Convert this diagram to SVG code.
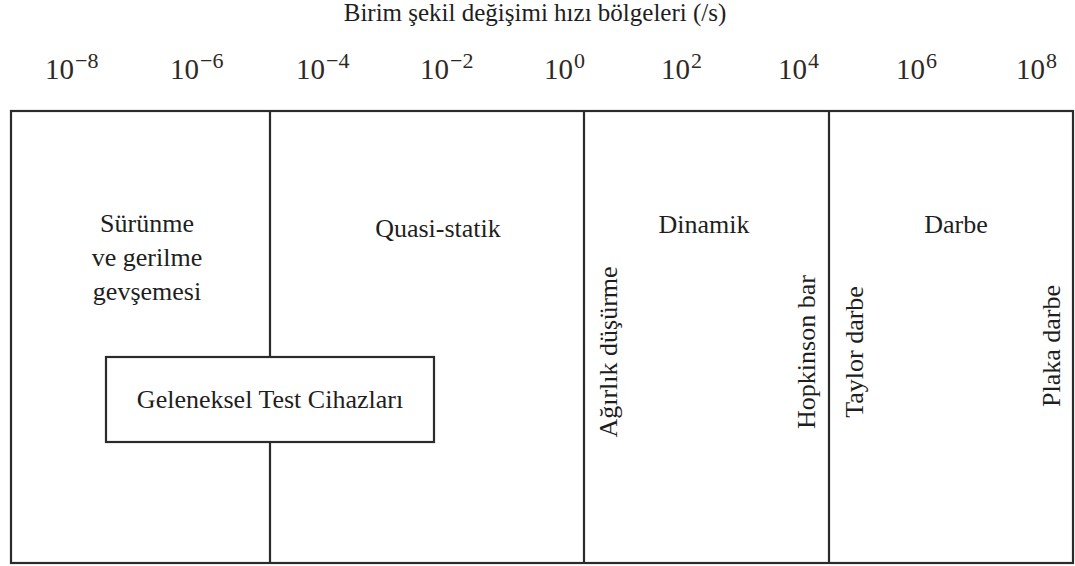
<svg xmlns="http://www.w3.org/2000/svg" width="1075" height="566" viewBox="0 0 1075 566">
  <style>
    .frame { fill: none; stroke: #2b2b2b; stroke-width: 2.2; }
    .div { stroke: #2b2b2b; stroke-width: 2.2; }
    .box { fill: #ffffff; stroke: #2b2b2b; stroke-width: 2.2; }
    text { font-family: 'Liberation Serif', 'DejaVu Serif', serif; }
    .lbl { font-size: 26px; fill: #1e1e1e; }
    .mid { text-anchor: middle; }
    .title { font-size: 25px; fill: #1e1e1e; text-anchor: middle; }
    .num { font-size: 29px; fill: #2e2924; }
    .sup { font-size: 22px; }
  </style>

  <rect width="1075" height="566" fill="#ffffff"/>

  <!-- axis title -->
  <text class="title" x="535" y="21">Birim şekil değişimi hızı bölgeleri (/s)</text>

  <!-- logarithmic scale labels -->
  <g id="scale">
    <text class="num" x="45" y="79">10<tspan class="sup" dx="1" dy="-11">−8</tspan></text>
    <text class="num" x="170" y="79">10<tspan class="sup" dx="1" dy="-11">−6</tspan></text>
    <text class="num" x="296" y="79">10<tspan class="sup" dx="1" dy="-11">−4</tspan></text>
    <text class="num" x="420" y="79">10<tspan class="sup" dx="1" dy="-11">−2</tspan></text>
    <text class="num" x="544" y="79">10<tspan class="sup" dx="1" dy="-11">0</tspan></text>
    <text class="num" x="661" y="79">10<tspan class="sup" dx="1" dy="-11">2</tspan></text>
    <text class="num" x="778" y="79">10<tspan class="sup" dx="1" dy="-11">4</tspan></text>
    <text class="num" x="896" y="79">10<tspan class="sup" dx="1" dy="-11">6</tspan></text>
    <text class="num" x="1016" y="79">10<tspan class="sup" dx="1" dy="-11">8</tspan></text>
  </g>

  <!-- outer frame and region dividers -->
  <g id="connectors">
    <rect class="frame" x="11" y="111" width="1062" height="452"/>
    <line class="div" x1="270" y1="111" x2="270" y2="563"/>
    <line class="div" x1="584" y1="111" x2="584" y2="563"/>
    <line class="div" x1="829" y1="111" x2="829" y2="563"/>
  </g>

  <g id="creep">
    <text class="lbl mid" x="147" y="232">Sürünme</text>
    <text class="lbl mid" x="147" y="266">ve gerilme</text>
    <text class="lbl mid" x="147" y="300">gevşemesi</text>
  </g>

  <g id="quasi-static">
    <text class="lbl mid" x="438" y="237">Quasi-statik</text>
  </g>

  <g id="dynamic">
    <text class="lbl mid" x="704" y="233">Dinamik</text>
    <text class="lbl mid" transform="translate(617,352) rotate(-90)">Ağırlık düşürme</text>
    <text class="lbl mid" transform="translate(815,352) rotate(-90)">Hopkinson bar</text>
  </g>

  <g id="impact">
    <text class="lbl mid" x="956" y="233">Darbe</text>
    <text class="lbl mid" transform="translate(863,352) rotate(-90)">Taylor darbe</text>
    <text class="lbl mid" transform="translate(1060,346) rotate(-90)">Plaka darbe</text>
  </g>

  <g id="conventional-testers">
    <rect class="box" x="106" y="357" width="328" height="85"/>
    <text class="lbl mid" x="270" y="408">Geleneksel Test Cihazları</text>
  </g>
</svg>
